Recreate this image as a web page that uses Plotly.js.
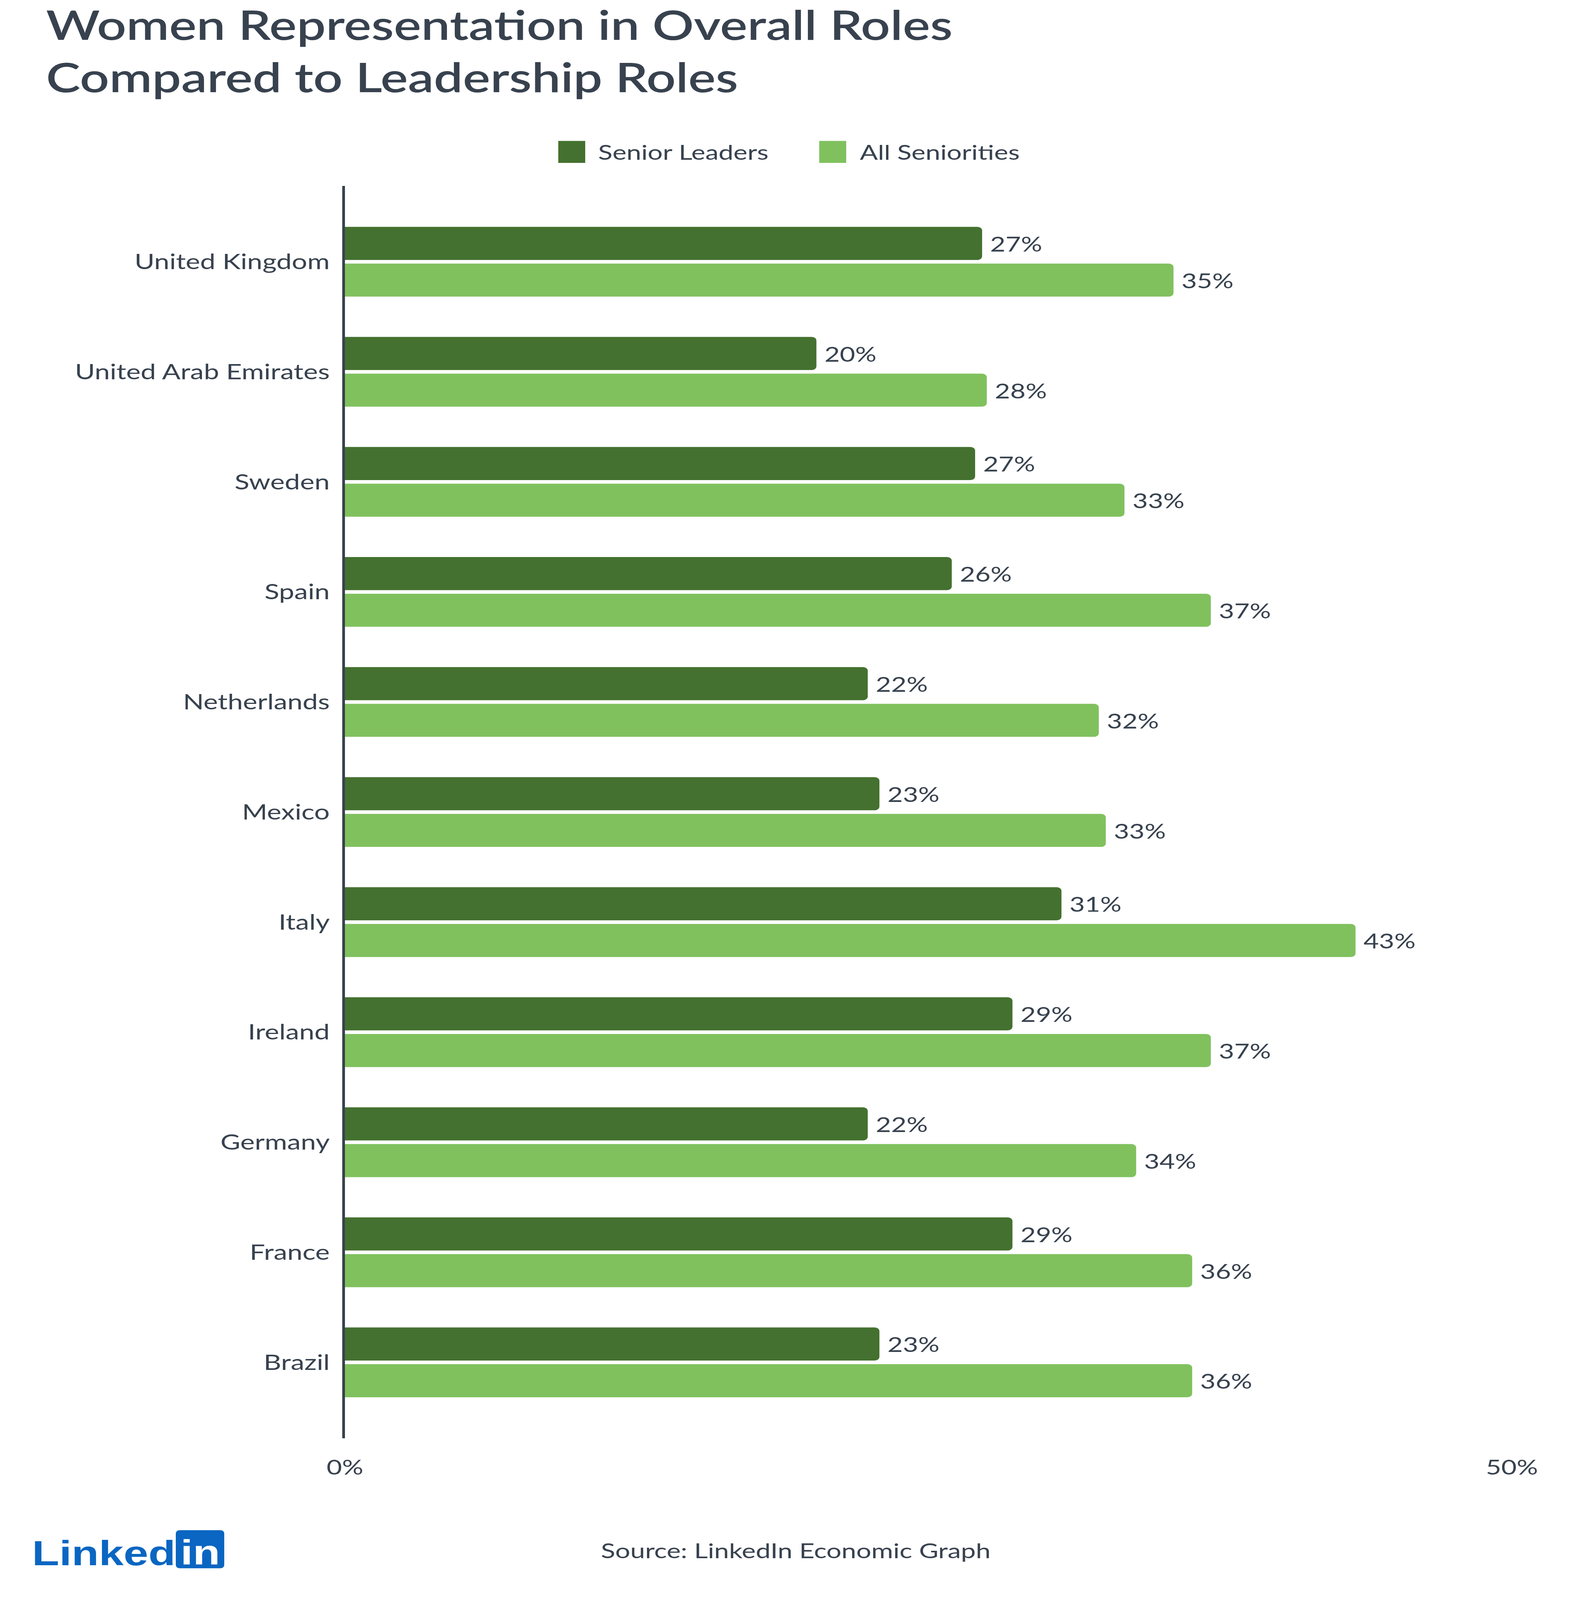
<!DOCTYPE html>
<html>
<head>
<meta charset="utf-8">
<script src="https://cdn.plot.ly/plotly-3.0.1.min.js"></script>
<style>
  html, body { margin: 0; padding: 0; background: #ffffff; overflow: hidden; }
  #chart { width: 4075px; height: 5244px; transform-origin: 0 0; }
</style>
</head>
<body>
<div id="chart"></div>
<script>
// ---- Data ----
const countries = ["United Kingdom", "United Arab Emirates", "Sweden", "Spain", "Netherlands", "Mexico", "Italy", "Ireland", "Germany", "France", "Brazil"];
const seniorLeaders = [27.3, 20.2, 27.0, 26.0, 22.4, 22.9, 30.7, 28.6, 22.4, 28.6, 22.9];
const seniorLabels = ["27%", "20%", "27%", "26%", "22%", "23%", "31%", "29%", "22%", "29%", "23%"];
const allSeniorities = [35.5, 27.5, 33.4, 37.1, 32.3, 32.6, 43.3, 37.1, 33.9, 36.3, 36.3];
const allLabels = ["35%", "28%", "33%", "37%", "32%", "33%", "43%", "37%", "34%", "36%", "36%"];
const seriesNames = ["Senior Leaders", "All Seniorities"];
const xTickVals = [0, 50];
const xTickText = ["0%", "50%"];

// ---- Style ----
const DARK = "#44712f";
const LIGHT = "#80c15e";
const TEXT = "#38424f";
const FONT = "Lato, 'Open Sans', sans-serif";
const W = 4075, H = 5244;
const PL = 883, PR = 3870, PT = 609, PB = 4714;
const fx = px => (px - PL) / (PR - PL);
const fy = py => (PB - py) / (PB - PT);

const nbsp = "\u00a0";

const traces = [
  {
    type: "bar", orientation: "h", name: seriesNames[0],
    y: countries, x: seniorLeaders,
    text: seniorLabels.map(t => nbsp + t), textposition: "outside",
    textfont: { family: FONT, size: 68, color: TEXT },
    constraintext: "none", cliponaxis: false,
    marker: { color: DARK, cornerradius: 12 },
    hoverinfo: "skip"
  },
  {
    type: "bar", orientation: "h", name: seriesNames[1],
    y: countries, x: allSeniorities,
    text: allLabels.map(t => nbsp + t), textposition: "outside",
    textfont: { family: FONT, size: 68, color: TEXT },
    constraintext: "none", cliponaxis: false,
    marker: { color: LIGHT, cornerradius: 12 },
    hoverinfo: "skip"
  }
];

// manual legend with large squares
const legendItems = [
  { name: seriesNames[0], color: DARK, x0: 1429, x1: 1498, tx: 1529 },
  { name: seriesNames[1], color: LIGHT, x0: 2097, x1: 2166, tx: 2199 }
];
const shapes = legendItems.map(it => ({
  type: "rect", xref: "paper", yref: "paper",
  x0: fx(it.x0), x1: fx(it.x1), y0: fy(534), y1: fy(462),
  fillcolor: it.color, line: { width: 0 }
}));
const annotations = legendItems.map(it => ({
  xref: "paper", yref: "paper", x: fx(it.tx), y: fy(498),
  xanchor: "left", yanchor: "middle", showarrow: false,
  text: it.name, font: { family: FONT, size: 68, color: TEXT }
}));

// LinkedIn logo
const bx0 = 450, bx1 = 574, by0 = 5015, by1 = 5140, r = 12;
const X = fx, Y = fy;
const path = `M ${X(bx0 + r)} ${Y(by0)} L ${X(bx1 - r)} ${Y(by0)} Q ${X(bx1)} ${Y(by0)} ${X(bx1)} ${Y(by0 + r)} ` +
  `L ${X(bx1)} ${Y(by1 - r)} Q ${X(bx1)} ${Y(by1)} ${X(bx1 - r)} ${Y(by1)} ` +
  `L ${X(bx0 + r)} ${Y(by1)} Q ${X(bx0)} ${Y(by1)} ${X(bx0)} ${Y(by1 - r)} ` +
  `L ${X(bx0)} ${Y(by0 + r)} Q ${X(bx0)} ${Y(by0)} ${X(bx0 + r)} ${Y(by0)} Z`;
shapes.push({ type: "path", xref: "paper", yref: "paper", path: path, fillcolor: "#0a66c2", line: { width: 0 } });
annotations.push({
  xref: "paper", yref: "paper", x: fx(80), y: fy(5090),
  xanchor: "left", yanchor: "middle", showarrow: false,
  text: "<b>Linked</b>", font: { family: "'Liberation Sans', Arial, sans-serif", size: 114, color: "#0a66c2" }
});
annotations.push({
  xref: "paper", yref: "paper", x: fx((bx0 + bx1) / 2), y: fy(5087),
  xanchor: "center", yanchor: "middle", showarrow: false,
  text: "<b>in</b>", font: { family: "'Liberation Sans', Arial, sans-serif", size: 114, color: "#ffffff" }
});
// source
annotations.push({
  xref: "paper", yref: "paper", x: fx(2037), y: fy(5080),
  xanchor: "center", yanchor: "middle", showarrow: false,
  text: "Source: LinkedIn Economic Graph", font: { family: FONT, size: 68, color: TEXT }
});

const layout = {
  width: W, height: H,
  paper_bgcolor: "#ffffff", plot_bgcolor: "#ffffff",
  margin: { l: PL, r: W - PR, t: PT, b: H - PB, pad: 0 },
  font: { family: FONT, color: TEXT, size: 68 },
  title: {
    text: "Women Representation in Overall Roles<br>Compared to Leadership Roles",
    font: { family: FONT, size: 132, color: TEXT, weight: 600 },
    xref: "container", yref: "container",
    x: 118 / W, xanchor: "left",
    y: 1 - 130 / H, yanchor: "middle"
  },
  showlegend: false,
  barmode: "group",
  bargap: 0.333,
  bargroupgap: 0.1,
  xaxis: {
    range: [0, 50], tickvals: xTickVals, ticktext: xTickText,
    showgrid: true, gridcolor: "#eeeeee", gridwidth: 6,
    zeroline: false, showline: false, ticks: "",
    ticklabelstandoff: 50,
    tickfont: { family: FONT, size: 68, color: TEXT },
    fixedrange: true
  },
  yaxis: {
    type: "category", range: [10.69, -0.69],
    showline: true, linecolor: TEXT, linewidth: 7,
    showgrid: false, zeroline: false, ticks: "",
    ticklabelstandoff: 18,
    tickfont: { family: FONT, size: 70, color: TEXT },
    fixedrange: true
  },
  shapes: shapes,
  annotations: annotations
};

const el = document.getElementById("chart");
Plotly.newPlot(el, traces, layout, { staticPlot: true, displayModeBar: false }).then(() => {
  // fit the full 4075x5244 chart into the visible window if it is smaller
  const sx = Math.min(1, window.innerWidth / W);
  const sy = Math.min(1, window.innerHeight / H);
  if (sx < 1 || sy < 1) el.style.transform = `scale(${sx}, ${sy})`;
});
</script>
</body>
</html>
